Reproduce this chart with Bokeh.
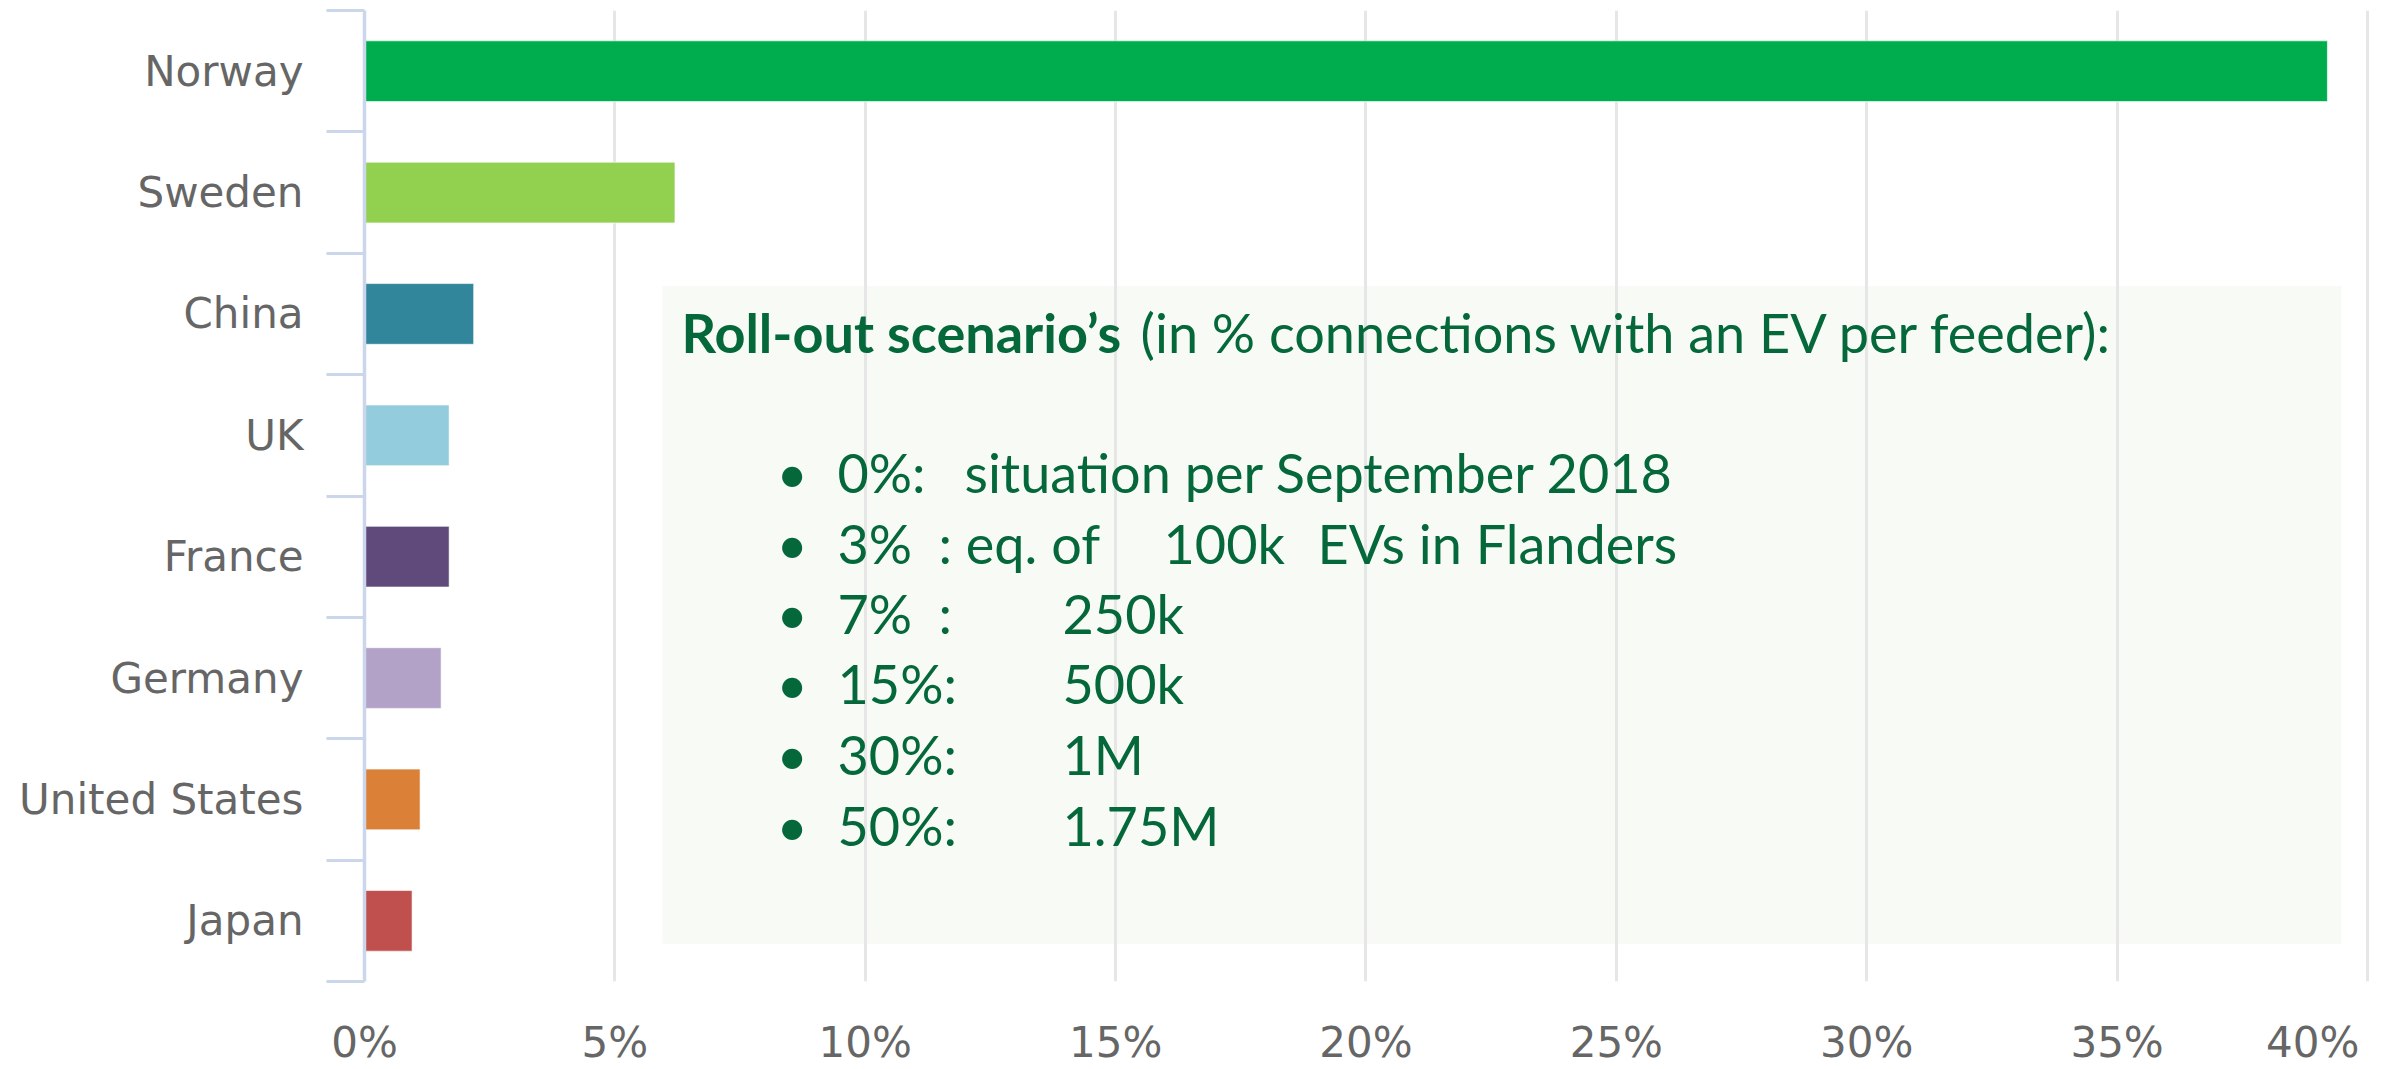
from bokeh.plotting import figure
from bokeh.models import Range1d, FixedTicker, Label, BoxAnnotation
from bokeh.embed import file_html
from bokeh.resources import INLINE

# ---------------- data ----------------
countries = ["Norway", "Sweden", "China", "UK", "France", "Germany", "United States", "Japan"]
shares = [39.2, 6.2, 2.18, 1.69, 1.69, 1.53, 1.11, 0.95]
bar_colors = ["#00ad4e", "#92d050", "#31869b", "#93cddd", "#604a7b", "#b3a2c7", "#da8137", "#c0504d"]
x_ticks = [0, 5, 10, 15, 20, 25, 30, 35, 40]
x_tick_labels = ["0%", "5%", "10%", "15%", "20%", "25%", "30%", "35%", "40%"]

heading_bold = "Roll-out scenario\u2019s"
heading_rest = "(in % connections with an EV per feeder):"
scen_pct = ["0%:", "3%", "7%", "15%:", "30%:", "50%:"]
scen_note = ["situation per September 2018", ": eq. of", ":", "", "", ""]
scen_evs = ["", "100k", "250k", "500k", "1M", "1.75M"]
scen_tail = ["", "EVs in Flanders", "", "", "", ""]

# ---------------- styling ----------------
GREEN = "#05683a"
BOX_FONT = "Lato"
BOX_SIZE = "54px"
n = len(countries)
ypos = [n - 0.5 - i for i in range(n)]

p = figure(width=2399, height=1069, output_backend="svg", toolbar_location=None,
           x_range=Range1d(0, 40.32), y_range=Range1d(0, n),
           min_border_left=364, min_border_right=16, min_border_top=10, min_border_bottom=84)
p.outline_line_color = None
p.background_fill_color = "white"
p.border_fill_color = "white"

# panel box (under grid)
box = BoxAnnotation(left=5.95, right=39.48, bottom=0.31, top=5.73,
                    fill_color="#f8faf5", fill_alpha=1.0, line_color=None, level="image")
p.add_layout(box)

p.hbar(y=ypos, left=0, right=shares, height=0.5, fill_color=bar_colors,
       line_color="white", line_width=1, line_alpha=0.6)

# x axis
xa = p.xaxis[0]
xa.ticker = FixedTicker(ticks=x_ticks, minor_ticks=[])
overrides = {t: lab for t, lab in zip(x_ticks, x_tick_labels)}
# last label kept inside the canvas (right-aligned to its gridline)
overrides[x_ticks[-1]] = x_tick_labels[-1] + "\u00a0" * 3
xa.major_label_overrides = overrides
xa.axis_line_color = None
xa.major_tick_line_color = None
xa.minor_tick_line_color = None
xa.major_label_text_font = "DejaVu Sans"
xa.major_label_text_font_size = "42px"
xa.major_label_text_color = "#666666"
xa.major_label_standoff = 30

p.xgrid.ticker = FixedTicker(ticks=x_ticks, minor_ticks=[])
p.xgrid.grid_line_color = "#e6e6e6"
p.xgrid.grid_line_width = 3
p.ygrid.grid_line_color = None

# y axis
ya = p.yaxis[0]
ya.ticker = FixedTicker(ticks=ypos, minor_ticks=list(range(n + 1)))
ya.major_label_overrides = {y: c for y, c in zip(ypos, countries)}
ya.major_tick_out = 0
ya.major_tick_in = 0
ya.minor_tick_out = 38
ya.minor_tick_in = 0
ya.minor_tick_line_color = "#ccd6eb"
ya.minor_tick_line_width = 3
ya.axis_line_color = "#ccd6eb"
ya.axis_line_width = 3.5
ya.major_label_text_font = "DejaVu Sans"
ya.major_label_text_font_size = "42px"
ya.major_label_text_color = "#666666"
ya.major_label_standoff = 23

# annotation texts
def txt(s, dx, dy, bold=False):
    if not s:
        return
    p.add_layout(Label(x=0, y=n, x_offset=dx, y_offset=-dy, text=s,
                       text_font=BOX_FONT, text_font_size=BOX_SIZE,
                       text_font_style="bold" if bold else "normal",
                       text_color=GREEN, text_align="left", text_baseline="alphabetic"))

txt(heading_bold, 317, 322, bold=True)
txt(heading_rest, 776, 322)
row_base = [462, 533, 603, 673, 744, 815]
note_x = [600, 574, 574, 574, 574, 574]
evs_x = [698, 799, 698, 698, 698, 698]
for i in range(len(scen_pct)):
    by = row_base[i]
    txt("\u2022", 412, by)
    txt(scen_pct[i], 473, by)
    txt(scen_note[i], note_x[i], by)
    txt(scen_evs[i], evs_x[i], by)
    txt(scen_tail[i], 953, by)

open("out.html", "w").write(file_html(p, INLINE))
